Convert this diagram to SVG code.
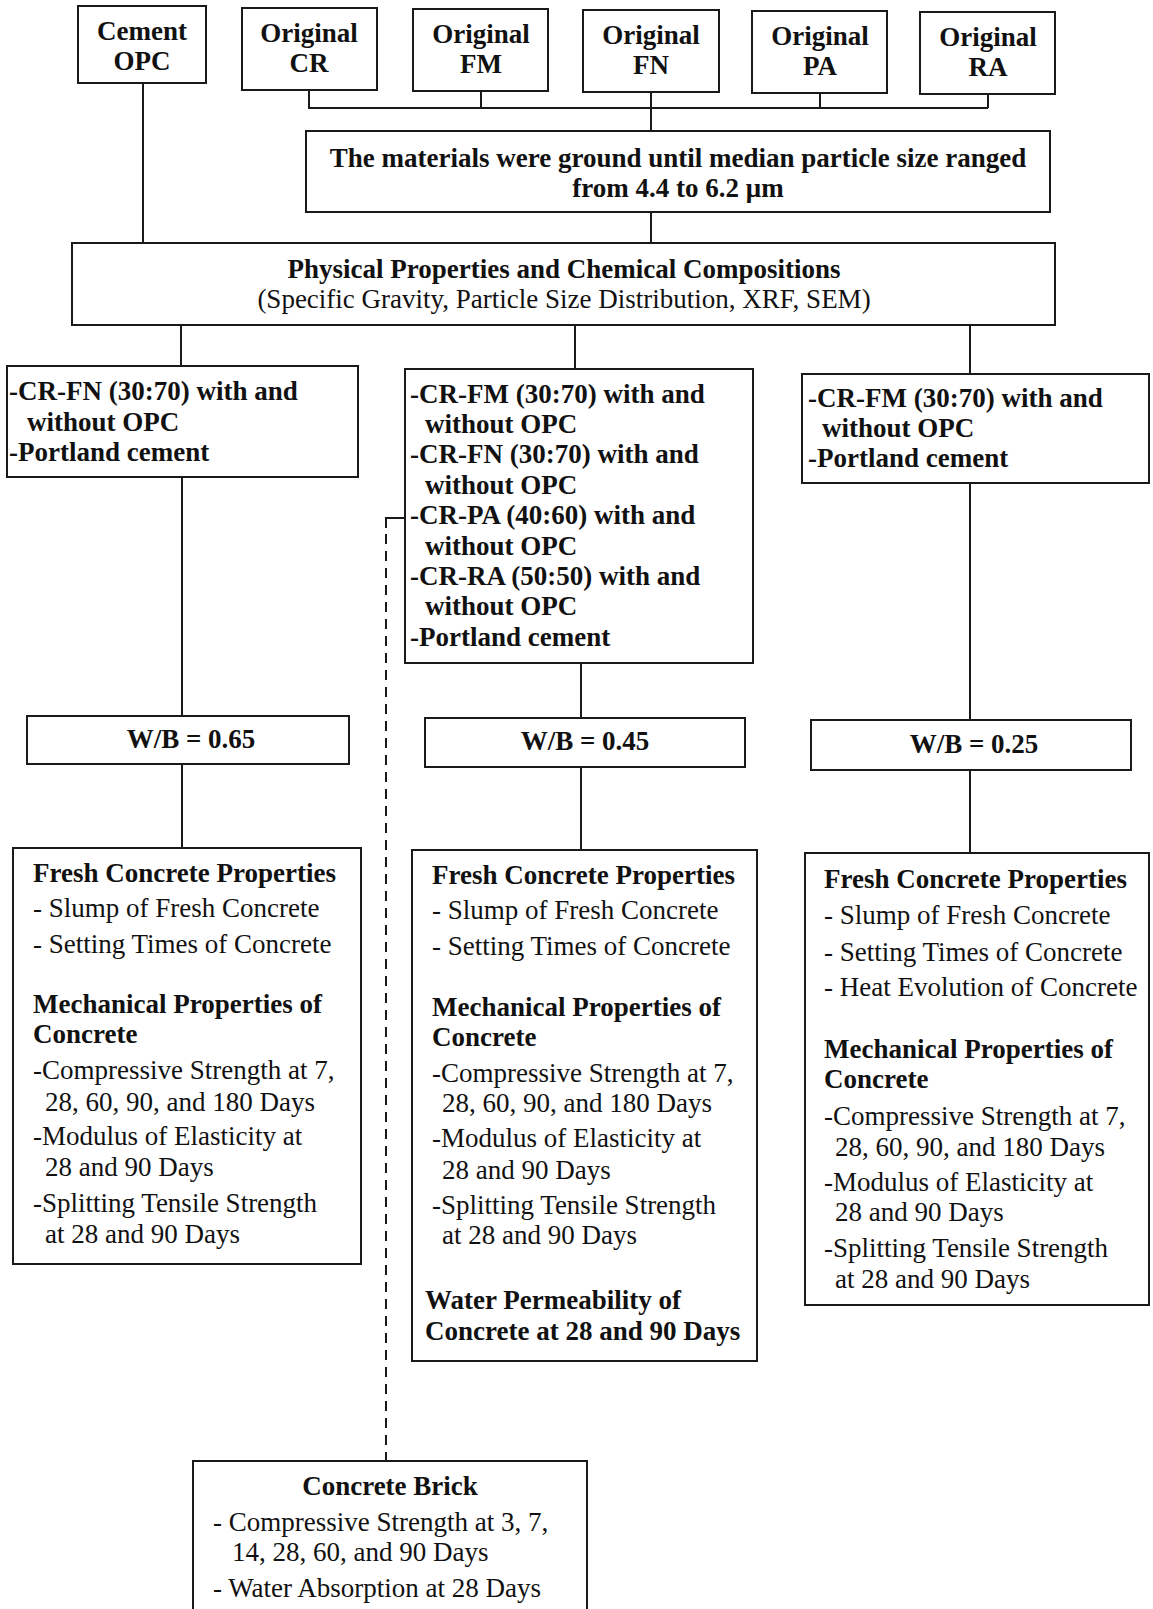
<svg xmlns="http://www.w3.org/2000/svg" width="1153" height="1609" viewBox="0 0 1153 1609">
<style>
.box{fill:#fff;stroke:#1a1a1a;stroke-width:2}
.ln{fill:none;stroke:#1a1a1a;stroke-width:2}
.dash{fill:none;stroke:#1a1a1a;stroke-width:2;stroke-dasharray:10 7}
text{font-family:"Liberation Serif","Times New Roman",serif;font-size:27px;fill:#111}
.b{font-weight:bold}
.c{text-anchor:middle}
</style>
<rect width="1153" height="1609" fill="#fff"/>
<g id="connectors">
<path class="ln" d="M143 83V243"/>
<path class="ln" d="M309 90V108H988M481 91V108M651 92V131M820 93V108M988 94V108"/>
<path class="ln" d="M651 212V243"/>
<path class="ln" d="M181 325V366M575 325V369M970 325V374"/>
<path class="ln" d="M182 477V716M581 663V718M970 483V720"/>
<path class="ln" d="M182 764V848M581 767V850M970 770V853"/>
<path class="ln" d="M405 518H386V528"/>
<path class="dash" d="M386 534V1461"/>
</g>
<g id="cement-opc"><rect class="box" x="78" y="6" width="128" height="77"/><text class="b c" x="142" y="40">Cement</text><text class="b c" x="142" y="70">OPC</text></g>
<g id="original-cr"><rect class="box" x="242" y="8" width="135" height="82"/><text class="b c" x="309" y="42">Original</text><text class="b c" x="309" y="72">CR</text></g>
<g id="original-fm"><rect class="box" x="413" y="9" width="135" height="82"/><text class="b c" x="481" y="43">Original</text><text class="b c" x="481" y="73">FM</text></g>
<g id="original-fn"><rect class="box" x="583" y="10" width="136" height="82"/><text class="b c" x="651" y="44">Original</text><text class="b c" x="651" y="74">FN</text></g>
<g id="original-pa"><rect class="box" x="752" y="11" width="135" height="82"/><text class="b c" x="820" y="45">Original</text><text class="b c" x="820" y="75">PA</text></g>
<g id="original-ra"><rect class="box" x="920" y="12" width="135" height="82"/><text class="b c" x="988" y="46">Original</text><text class="b c" x="988" y="76">RA</text></g>
<g id="grinding"><rect class="box" x="306" y="131" width="744" height="81"/><text class="b c" x="678" y="167">The materials were ground until median particle size ranged</text><text class="b c" x="678" y="197">from 4.4 to 6.2 μm</text></g>
<g id="physical"><rect class="box" x="72" y="243" width="983" height="82"/><text class="b c" x="564" y="278">Physical Properties and Chemical Compositions</text><text class="c" x="564" y="308">(Specific Gravity, Particle Size Distribution, XRF, SEM)</text></g>
<g id="mix-left"><rect class="box" x="7" y="366" width="351" height="111"/><text class="b" x="9" y="400">-CR-FN (30:70) with and</text><text class="b" x="27" y="431">without OPC</text><text class="b" x="9" y="461">-Portland cement</text></g>
<g id="mix-middle"><rect class="box" x="405" y="369" width="348" height="294"/>
<text class="b" x="410" y="403">-CR-FM (30:70) with and</text><text class="b" x="425" y="433">without OPC</text>
<text class="b" x="410" y="463">-CR-FN (30:70) with and</text><text class="b" x="425" y="494">without OPC</text>
<text class="b" x="410" y="524">-CR-PA (40:60) with and</text><text class="b" x="425" y="555">without OPC</text>
<text class="b" x="410" y="585">-CR-RA (50:50) with and</text><text class="b" x="425" y="615">without OPC</text>
<text class="b" x="410" y="646">-Portland cement</text></g>
<g id="mix-right"><rect class="box" x="802" y="374" width="347" height="109"/><text class="b" x="808" y="407">-CR-FM (30:70) with and</text><text class="b" x="822" y="437">without OPC</text><text class="b" x="808" y="467">-Portland cement</text></g>
<g id="wb-065"><rect class="box" x="27" y="716" width="322" height="48"/><text class="b c" x="191" y="748">W/B = 0.65</text></g>
<g id="wb-045"><rect class="box" x="425" y="718" width="320" height="49"/><text class="b c" x="585" y="750">W/B = 0.45</text></g>
<g id="wb-025"><rect class="box" x="811" y="720" width="320" height="50"/><text class="b c" x="974" y="753">W/B = 0.25</text></g>
<g id="props-left"><rect class="box" x="13" y="848" width="348" height="416"/>
<text class="b" x="33" y="882">Fresh Concrete Properties</text>
<text x="33" y="917">- Slump of Fresh Concrete</text>
<text x="33" y="953">- Setting Times of Concrete</text>
<text class="b" x="33" y="1013">Mechanical Properties of</text>
<text class="b" x="33" y="1043">Concrete</text>
<text x="33" y="1079">-Compressive Strength at 7,</text>
<text x="45" y="1111">28, 60, 90, and 180 Days</text>
<text x="33" y="1145">-Modulus of Elasticity at</text>
<text x="45" y="1176">28 and 90 Days</text>
<text x="33" y="1212">-Splitting Tensile Strength</text>
<text x="45" y="1243">at 28 and 90 Days</text></g>
<g id="props-middle"><rect class="box" x="412" y="850" width="345" height="511"/>
<text class="b" x="432" y="884">Fresh Concrete Properties</text>
<text x="432" y="919">- Slump of Fresh Concrete</text>
<text x="432" y="955">- Setting Times of Concrete</text>
<text class="b" x="432" y="1016">Mechanical Properties of</text>
<text class="b" x="432" y="1046">Concrete</text>
<text x="432" y="1082">-Compressive Strength at 7,</text>
<text x="442" y="1112">28, 60, 90, and 180 Days</text>
<text x="432" y="1147">-Modulus of Elasticity at</text>
<text x="442" y="1179">28 and 90 Days</text>
<text x="432" y="1214">-Splitting Tensile Strength</text>
<text x="442" y="1244">at 28 and 90 Days</text>
<text class="b" x="425" y="1309">Water Permeability of</text>
<text class="b" x="425" y="1340">Concrete at 28 and 90 Days</text></g>
<g id="props-right"><rect class="box" x="805" y="853" width="344" height="452"/>
<text class="b" x="824" y="888">Fresh Concrete Properties</text>
<text x="824" y="924">- Slump of Fresh Concrete</text>
<text x="824" y="961">- Setting Times of Concrete</text>
<text x="824" y="996">- Heat Evolution of Concrete</text>
<text class="b" x="824" y="1058">Mechanical Properties of</text>
<text class="b" x="824" y="1088">Concrete</text>
<text x="824" y="1125">-Compressive Strength at 7,</text>
<text x="835" y="1156">28, 60, 90, and 180 Days</text>
<text x="824" y="1191">-Modulus of Elasticity at</text>
<text x="835" y="1221">28 and 90 Days</text>
<text x="824" y="1257">-Splitting Tensile Strength</text>
<text x="835" y="1288">at 28 and 90 Days</text></g>
<g id="concrete-brick"><rect class="box" x="193" y="1461" width="394" height="170"/>
<text class="b c" x="390" y="1495">Concrete Brick</text>
<text x="213" y="1531">- Compressive Strength at 3, 7,</text>
<text x="232" y="1561">14, 28, 60, and 90 Days</text>
<text x="213" y="1597">- Water Absorption at 28 Days</text></g>
</svg>
